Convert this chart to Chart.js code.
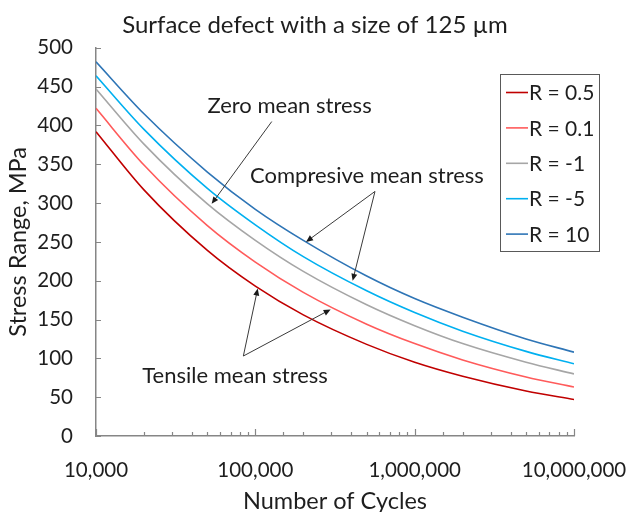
<!DOCTYPE html>
<html>
<head>
<meta charset="utf-8">
<title>Surface defect S-N curves</title>
<script src="https://cdn.jsdelivr.net/npm/chart.js@4.4.1/dist/chart.umd.min.js"></script>
<style>
  html, body { margin: 0; padding: 0; background: #fff; }
  #wrap { width: 630px; height: 512px; }
</style>
</head>
<body>
<div id="wrap"><canvas id="snChart" width="630" height="512"></canvas></div>
<script>
// number of cycles (log axis) and stress range per stress ratio, MPa
const cycles = [1e4, 2e4, 5e4, 1e5, 2e5, 5e5, 1e6, 2e6, 5e6, 1e7];
const ratioLabels = ['R = 0.5', 'R = 0.1', 'R = -1', 'R = -5', 'R = 10'];
const stressR05 = [392, 317, 239, 193, 156, 118, 95, 77, 58, 47];
const stressR01 = [422, 349, 271, 224, 185, 144, 119, 98, 76, 63];
const stressRm1 = [447, 376, 299, 252, 212, 169, 142, 119, 95, 80];
const stressRm5 = [464, 395, 319, 272, 231, 187, 159, 135, 109, 93];
const stressR10 = [482, 415, 340, 292, 252, 206, 177, 153, 125, 108];
const decadeLabels = { 1e4: '10,000', 1e5: '100,000', 1e6: '1,000,000', 1e7: '10,000,000' };

const FONT = 'Lato, "Open Sans", sans-serif';
const TEXT = '#1e1e1e';
const AXIS = '#868686';
const colors = ['#c00000', '#ff5b5b', '#a6a6a6', '#00b0f0', '#2e75b6'];

// callouts: text centre, arrow start and arrow tips, all in (cycles, MPa)
const callouts = [
  { text: 'Zero mean stress', at: [164000, 425], from: [126800, 405], tips: [[53200, 299]] },
  { text: 'Compresive mean stress', at: [502000, 335], from: [563600, 315], tips: [[208000, 250], [408000, 200]] },
  { text: 'Tensile mean stress', at: [74600, 77], from: [84100, 103], tips: [[103500, 190], [297000, 163]] }
];

const series = [stressR05, stressR01, stressRm1, stressRm5, stressR10];
const datasets = series.map((vals, i) => ({
  label: ratioLabels[i],
  data: cycles.map((n, j) => ({ x: n, y: vals[j] })),
  borderColor: colors[i],
  backgroundColor: colors[i],
  borderWidth: 1.6,
  pointRadius: 0,
  fill: false,
  cubicInterpolationMode: 'monotone'
}));

function drawArrow(ctx, x0, y0, x1, y1) {
  const a = Math.atan2(y1 - y0, x1 - x0);
  const len = 7, half = 3;
  ctx.beginPath();
  ctx.moveTo(x0, y0);
  ctx.lineTo(x1 - Math.cos(a) * len * 0.8, y1 - Math.sin(a) * len * 0.8);
  ctx.stroke();
  ctx.beginPath();
  ctx.moveTo(x1, y1);
  ctx.lineTo(x1 - Math.cos(a) * len - Math.sin(a) * half, y1 - Math.sin(a) * len + Math.cos(a) * half);
  ctx.lineTo(x1 - Math.cos(a) * len + Math.sin(a) * half, y1 - Math.sin(a) * len - Math.cos(a) * half);
  ctx.closePath();
  ctx.fill();
}

// inward tick marks on both axes
const innerTicks = {
  id: 'innerTicks',
  afterDraw(chart) {
    const { ctx, chartArea: ca } = chart;
    const xs = chart.scales.x, ys = chart.scales.y;
    ctx.save();
    ctx.strokeStyle = AXIS;
    ctx.lineWidth = 1.2;
    ctx.beginPath();
    xs.ticks.forEach(t => {
      const px = Math.round(xs.getPixelForValue(t.value)) + 0.5;
      const major = decadeLabels[t.value] !== undefined;
      ctx.moveTo(px, ca.bottom);
      ctx.lineTo(px, ca.bottom - (major ? 7 : 4));
    });
    ys.ticks.forEach(t => {
      const py = Math.round(ys.getPixelForValue(t.value)) + 0.5;
      ctx.moveTo(ca.left, py);
      ctx.lineTo(ca.left + 5, py);
    });
    ctx.stroke();
    ctx.restore();
  }
};

// annotation texts with arrows
const calloutPlugin = {
  id: 'callouts',
  afterDatasetsDraw(chart) {
    const { ctx } = chart;
    const xs = chart.scales.x, ys = chart.scales.y;
    const px = p => [xs.getPixelForValue(p[0]), ys.getPixelForValue(p[1])];
    ctx.save();
    ctx.font = '22px ' + FONT;
    ctx.textAlign = 'center';
    ctx.textBaseline = 'middle';
    callouts.forEach(c => {
      const [tx, ty] = px(c.at);
      ctx.fillStyle = TEXT;
      ctx.fillText(c.text, tx, ty);
      const [fx, fy] = px(c.from);
      ctx.strokeStyle = '#3a3a3a';
      ctx.fillStyle = '#1a1a1a';
      ctx.lineWidth = 1;
      c.tips.forEach(t => {
        const [ex, ey] = px(t);
        drawArrow(ctx, fx, fy, ex, ey);
      });
    });
    ctx.restore();
  }
};

// boxed legend sitting in the upper right of the plot
const boxLegend = {
  id: 'boxLegend',
  afterDraw(chart) {
    const { ctx, chartArea: ca } = chart;
    const left = Math.round(ca.right) - 74, top = Math.round(ca.top) + 26, w = 99, h = 177;
    ctx.save();
    ctx.fillStyle = '#fff';
    ctx.fillRect(left, top, w, h);
    ctx.strokeStyle = '#595959';
    ctx.lineWidth = 1;
    ctx.strokeRect(left + 0.5, top + 0.5, w, h);
    ctx.font = '21px ' + FONT;
    ctx.textAlign = 'left';
    ctx.textBaseline = 'middle';
    chart.data.datasets.forEach((ds, i) => {
      const y = top + 18.5 + i * 35.4;
      ctx.strokeStyle = ds.borderColor;
      ctx.lineWidth = 1.6;
      ctx.beginPath();
      ctx.moveTo(left + 6, y);
      ctx.lineTo(left + 28, y);
      ctx.stroke();
      ctx.fillStyle = TEXT;
      ctx.fillText(ds.label, left + 29, y + 1);
    });
    ctx.restore();
  }
};

new Chart(document.getElementById('snChart'), {
  type: 'line',
  data: { datasets },
  plugins: [innerTicks, calloutPlugin, boxLegend],
  options: {
    responsive: false,
    animation: false,
    devicePixelRatio: 1,
    layout: { padding: 0 },
    plugins: {
      legend: { display: false },
      tooltip: { enabled: false },
      title: {
        display: true,
        text: 'Surface defect with a size of 125 µm',
        color: TEXT,
        font: { family: FONT, size: 24, weight: 'normal' },
        padding: { top: 11, bottom: 8 }
      }
    },
    scales: {
      x: {
        type: 'logarithmic',
        min: 1e4,
        max: 1e7,
        grid: { display: false, drawTicks: false },
        border: { display: true, color: AXIS, width: 1.5 },
        ticks: {
          autoSkip: false,
          maxRotation: 0,
          padding: 22,
          color: TEXT,
          font: { family: FONT, size: 20.5 },
          callback: v => decadeLabels[v] || ''
        },
        title: {
          display: true,
          text: 'Number of Cycles',
          color: TEXT,
          font: { family: FONT, size: 23.5 },
          padding: { top: 0, bottom: -4 }
        },
        afterFit: s => {
          s.height = 76;
          s.paddingLeft = 0;
          s.paddingRight = 0;
        }
      },
      y: {
        min: 0,
        max: 500,
        grid: { display: false, drawTicks: false },
        border: { display: true, color: AXIS, width: 1.5 },
        ticks: {
          stepSize: 50,
          padding: 23,
          color: TEXT,
          font: { family: FONT, size: 20.5 }
        },
        title: {
          display: true,
          text: 'Stress Range, MPa',
          color: TEXT,
          font: { family: FONT, size: 23.5 },
          padding: { top: 4, bottom: 0 }
        },
        afterFit: s => { s.width = 96; }
      },
      spare: {
        position: 'right',
        min: 0,
        max: 1,
        grid: { display: false, drawTicks: false },
        border: { display: false },
        ticks: { display: false },
        afterFit: s => { s.width = 56; }
      }
    }
  }
});
</script>
</body>
</html>
